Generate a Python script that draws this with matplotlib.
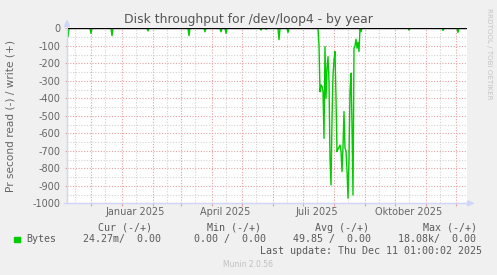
import matplotlib
matplotlib.use("Agg")
import pandas as pd
import matplotlib.dates as mdates
from matplotlib import pyplot as plt
from matplotlib.patches import Polygon, Rectangle
from matplotlib.lines import Line2D
from matplotlib.ticker import FixedLocator, MultipleLocator, FuncFormatter

plt.rcParams["axes.unicode_minus"] = False

# read bytes per second (drawn negative), one value per day
days = [
    "2024-11-07", "2024-11-08", "2024-11-09",
    "2024-11-30", "2024-12-01", "2024-12-02",
    "2024-12-21", "2024-12-22", "2024-12-23",
    "2025-01-26", "2025-01-27", "2025-01-28",
    "2025-03-08", "2025-03-09", "2025-03-10",
    "2025-03-24", "2025-03-25", "2025-03-26",
    "2025-04-09", "2025-04-10", "2025-04-11",
    "2025-04-14", "2025-04-15", "2025-04-16",
    "2025-05-19", "2025-05-20", "2025-05-21",
    "2025-05-24", "2025-05-25", "2025-05-26",
    "2025-06-06", "2025-06-07", "2025-06-08",
    "2025-06-15", "2025-06-16", "2025-06-17",
    "2025-07-16", "2025-07-17", "2025-07-18", "2025-07-19", "2025-07-20",
    "2025-07-21", "2025-07-22", "2025-07-23", "2025-07-24", "2025-07-25",
    "2025-07-26", "2025-07-27", "2025-07-28", "2025-07-29", "2025-07-30",
    "2025-07-31", "2025-08-01", "2025-08-02", "2025-08-03", "2025-08-04",
    "2025-08-05", "2025-08-06", "2025-08-07", "2025-08-08", "2025-08-09",
    "2025-08-10", "2025-08-11", "2025-08-12", "2025-08-13", "2025-08-14",
    "2025-08-15", "2025-08-16", "2025-08-17", "2025-08-18", "2025-08-19",
    "2025-08-20", "2025-08-21", "2025-08-22", "2025-08-23", "2025-08-24",
    "2025-08-25", "2025-08-26", "2025-08-27", "2025-08-28", "2025-08-29",
    "2025-10-14", "2025-10-15", "2025-10-16",
    "2025-11-17", "2025-11-18", "2025-11-19",
    "2025-12-02", "2025-12-03", "2025-12-04",
    "2025-12-11",
]
read = [
    0, -48, 0,
    0, -29, 0,
    0, -42, 0,
    0, -15, 0,
    0, -42, 0,
    0, -20, 0,
    0, -20, 0,
    0, -29, 0,
    0, -10, 0,
    0, -5, 0,
    0, -65, 0,
    0, -24, 0,
    0, -95, -362, -324, -330,
    -362, -629, -105, -400, -229,
    -162, -300, -743, -895, -524,
    -270, -180, -133, -400, -705,
    -690, -680, -667, -700, -819,
    -676, -476, -686, -700, -810,
    -971, -752, -362, -257, -550,
    -953, -114, -100, -62, -114,
    -80, -133, 0, -19, 0,
    0, -10, 0,
    0, -12, 0,
    0, -24, 0,
    0,
]

yticks = list(range(-1000, 1, 100))
month_labels = {1: "Januar", 4: "April", 7: "Juli", 10: "Oktober"}

legend_head = ["Cur (-/+)", "Min (-/+)", "Avg (-/+)", "Max (-/+)"]
legend_vals = ["24.27m/  0.00", "0.00 /  0.00", "49.85 /  0.00", "18.08k/  0.00"]

W, H = 497, 275
font = "#666666"
axis_col = "#CFD6F8"
mgrid = "#E8A0A0"
grid = "#D2D2D2"


def px(x, y):
    return (x / W, 1 - y / H)


fig = plt.figure(figsize=(W / 100, H / 100), dpi=100, facecolor="#F0F0F0")
ax = fig.add_axes([67 / W, 1 - 203.3 / H, 400 / W, 175 / H])
ax.set_facecolor("white")

t = pd.to_datetime(days) + pd.Timedelta(hours=12)
ax.plot(t, read, color="#00CC00", lw=1.0, zorder=3)
ax.axhline(0, color="black", lw=1.0, zorder=4)

ax.set_xlim(pd.Timestamp("2024-11-07 12:00"), pd.Timestamp("2025-12-12 12:00"))
ax.set_ylim(-1000, 0)

ax.xaxis.set_major_locator(mdates.MonthLocator(bymonthday=1))
ax.xaxis.set_major_formatter(FuncFormatter(lambda v, p: ""))
ax.xaxis.set_minor_locator(mdates.MonthLocator(bymonthday=15))


def xlab(v, p):
    d = mdates.num2date(v)
    if d.month in month_labels:
        return f"{month_labels[d.month]} {d.year}"
    return ""


ax.xaxis.set_minor_formatter(FuncFormatter(xlab))

ax.yaxis.set_major_locator(FixedLocator(yticks))
ax.yaxis.set_major_formatter(FuncFormatter(lambda v, p: f"{int(round(v))}"))
ax.yaxis.set_minor_locator(MultipleLocator(50))

dots = (0, (1, 1.5))
ax.grid(which="major", color=mgrid, lw=0.8, linestyle=dots, zorder=1)
ax.grid(which="minor", color=grid, lw=0.8, linestyle=dots, zorder=1)
ax.set_axisbelow(True)

ax.tick_params(axis="x", which="major", length=2, color=mgrid, labelsize=7)
ax.tick_params(axis="x", which="minor", length=0, pad=2.5, labelsize=7, labelcolor=font)
ax.tick_params(axis="y", which="major", length=1.5, pad=3, color=mgrid, labelsize=7, labelcolor=font)
ax.tick_params(axis="y", which="minor", length=0)

for s in ax.spines.values():
    s.set_visible(False)

# axes with arrows, rrdtool style
fig.add_artist(Line2D([px(67, 0)[0]] * 2, [px(0, 203.3)[1], px(0, 24)[1]], color=axis_col, lw=1.0))
fig.add_artist(Line2D([px(64, 0)[0], px(469, 0)[0]], [px(0, 203.3)[1]] * 2, color=axis_col, lw=1.0))
fig.add_artist(Polygon([px(64.5, 26.5), px(69.5, 26.5), px(67, 20.5)], closed=True,
                       transform=fig.transFigure, color=axis_col))
fig.add_artist(Polygon([px(467.5, 200.8), px(467.5, 205.8), px(473.5, 203.3)], closed=True,
                       transform=fig.transFigure, color=axis_col))

fig.text(*px(248, 19.5), "Disk throughput for /dev/loop4 - by year", ha="center", va="center",
         fontsize=8.9, color="#555555")
fig.text(*px(11, 115.6), "Pr second read (-) / write (+)", rotation=90, ha="center", va="center",
         fontsize=7.6, color=font)
fig.text(*px(488.5, 53.5), "RRDTOOL / TOBI OETIKER", rotation=270, ha="center", va="center",
         fontsize=5.1, color="#C4C4C4")

mono = dict(family="DejaVu Sans Mono", fontsize=7.2, color="#5A5A5A", va="center")
for x, s in zip([98, 206.7, 315, 422.7], legend_head):
    fig.text(*px(x, 227.7), s, ha="left", **mono)
fig.add_artist(Rectangle(px(14, 242.3), 6 / W, 5.6 / H, transform=fig.transFigure,
                         color="#00CC00"))
fig.text(*px(26.7, 239.3), "Bytes", ha="left", **mono)
for x, s in zip([82.7, 194, 293.3, 398.3], legend_vals):
    fig.text(*px(x, 239.3), s, ha="left", **mono)
fig.text(*px(482.3, 251), "Last update: Thu Dec 11 01:00:02 2025", ha="right", **mono)
fig.text(*px(248, 264.5), "Munin 2.0.56", ha="center", va="center", fontsize=5.5, color="#C0C0C0")

fig.savefig("out.png", dpi=100, facecolor=fig.get_facecolor())
